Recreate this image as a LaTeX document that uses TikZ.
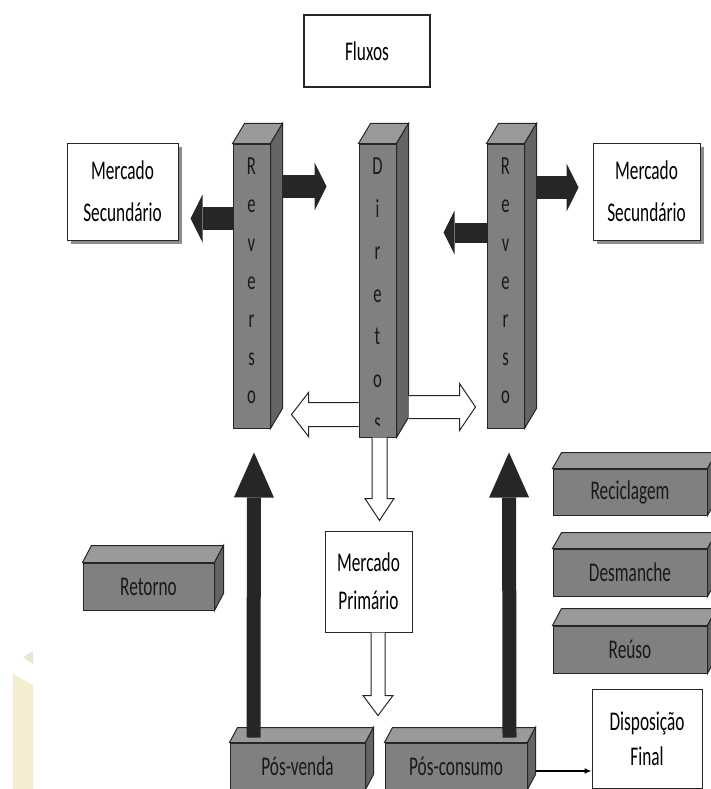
\documentclass[tikz,border=0pt]{standalone}
\usepackage{fontspec}
\setmainfont{Carlito}[FakeStretch=0.64]
\usetikzlibrary{arrows.meta,positioning,calc,shadows}

\definecolor{slabfront}{HTML}{808080}
\definecolor{slabtop}{HTML}{9A9A9A}
\definecolor{slabside}{HTML}{646464}
\definecolor{blockarrow}{HTML}{262626}
\definecolor{markpale}{HTML}{F5EDD2}
\definecolor{markgrey}{HTML}{E9E5CF}

% top and side faces behind a slab node (#2 = depth vector)
\newcommand{\slabfaces}[2]{%
  \draw[slabedge, fill=slabtop] (#1.north west) -- ++(#2) -- ($(#1.north east)+(#2)$) -- (#1.north east) -- cycle;
  \draw[slabedge, fill=slabside] (#1.north east) -- ++(#2) -- ($(#1.south east)+(#2)$) -- (#1.south east) -- cycle;
}

\begin{document}
\begin{tikzpicture}[x=1pt, y=-1pt,
    every node/.style={font=\fontsize{27}{40}\selectfont},
    % White text boxes
    wbox/.style={rectangle, draw=black!85, line width=1pt, fill=white, align=center, inner sep=0pt},
    shadowed/.style={drop shadow={shadow xshift=4pt, shadow yshift=-4pt, fill=black!45, opacity=1}},
    % Gray slabs: front face
    slab/.style={rectangle, draw=black!85, line width=1pt, fill=slabfront, text=black!90, inner sep=0pt},
    slabedge/.style={draw=black!85, line width=1pt},
    % Stacked letters on the pillars
    letters/.style={align=center, inner sep=0pt, text=black!90},
    % Arrows
    sidearr/.style={blockarrow, line width=23pt, -{Triangle[length=12pt, width=48pt, line width=0pt]}},
    uparr/.style={blockarrow, line width=14pt, -{Triangle[length=45pt, width=40pt, line width=0pt]}},
    hollow/.style={draw=black!85, fill=white, line width=1pt},
    thinarr/.style={-{Latex[length=7pt, width=6pt]}, line width=1.2pt},
]
\clip (0,0) rectangle (711,789);

% ============================================================
% Pale mark, bottom left
% ============================================================
\fill[markpale] (13,674) -- (33,685) -- (33,789) -- (13,789) -- cycle;
\fill[markgrey] (23,657) -- (33,651) -- (33,664) -- cycle;

% ============================================================
% White boxes
% ============================================================
\node[wbox, line width=1.4pt, minimum width=126, minimum height=72] (flux) at (367,51) {Fluxos};
\node[wbox, shadowed, minimum width=111, minimum height=97, font=\fontsize{27}{42}\selectfont]
    (msl) at (122.5,191.5) {Mercado\\Secundário};
\node[wbox, shadowed, minimum width=107, minimum height=97, font=\fontsize{27}{42}\selectfont]
    (msr) at (646.5,191.5) {Mercado\\Secundário};
\node[wbox, minimum width=87, minimum height=101, font=\fontsize{27}{38}\selectfont]
    (mp) at (368.5,581.5) {Mercado\\Primário};
\node[wbox, minimum width=110, minimum height=99, font=\fontsize{27}{35}\selectfont]
    (dispo) at (647,738.5) {Disposição\\Final};

% ============================================================
% Pillars
% ============================================================
\node[slab, minimum width=37, minimum height=284] (lrev) at (251.5,286) {};
\slabfaces{lrev}{12,-20}
\node[slab, minimum width=37, minimum height=293] (dir) at (377.5,290.5) {};
\slabfaces{dir}{12,-20}
\node[slab, minimum width=37, minimum height=284] (rrev) at (505.5,286) {};
\slabfaces{rrev}{12,-20}

\node[letters, font=\fontsize{26}{38.2}\selectfont] (lrevtxt) at (251.5,281) {R\\e\\v\\e\\r\\s\\o};
\node[letters, font=\fontsize{26}{38.2}\selectfont] (rrevtxt) at (505.5,281) {R\\e\\v\\e\\r\\s\\o};
\begin{scope}
  \clip (dir.north west) rectangle ([yshift=12pt]dir.south east);
  \node[letters, font=\fontsize{26}{42.6}\selectfont] (dirtxt) at (377.5,294) {D\\i\\r\\e\\t\\o\\s};
\end{scope}

% Black arrows out of the Reverso pillars
\draw[sidearr] ($(lrev.north east)+(12,43)$) -- ++(44,0);
\draw[sidearr] ($(lrev.north west)+(0,75)$) -- ++(-42,0);
\draw[sidearr, line width=20pt, -{Triangle[length=11pt, width=44pt, line width=0pt]}]
    ($(rrev.north west)+(0,89)$) -- ++(-43,0);
\draw[sidearr] ($(rrev.north east)+(12,44)$) -- ++(42,0);

% Hollow arrows out of the Diretos pillar
\draw[hollow] ($(dir.south west)+(0,-11)$) -- ++(-50,0) -- ++(0,10) -- ++(-17,-22)
    -- ++(17,-22) -- ++(0,10) -- ++(50,0);
\draw[hollow] ($(dir.south east)+(12,-19)$) -- ++(51,0) -- ++(0,12) -- ++(16,-23.5)
    -- ++(-16,-23.5) -- ++(0,12) -- ++(-51,0);
\draw[hollow] ($(dir.south)+(-5.5,0)$) -- ++(0,61) -- ++(-7,0) -- ++(14.5,22)
    -- ++(14.5,-22) -- ++(-7,0) -- ++(0,-61);
\draw[hollow] ($(mp.south)+(2.5,0)$) -- ++(0,63) -- ++(-8,0) -- ++(15,20)
    -- ++(15,-20) -- ++(-8,0) -- ++(0,-63);

% ============================================================
% Gray slabs
% ============================================================
\node[slab, minimum width=131, minimum height=47] (ret) at (148.5,586.5) {Retorno};
\slabfaces{ret}{9,-17}
\node[slab, minimum width=154, minimum height=46] (rec) at (630,492) {Reciclagem};
\slabfaces{rec}{9,-16}
\node[slab, minimum width=154, minimum height=47] (des) at (630,572.5) {Desmanche};
\slabfaces{des}{9,-16}
\node[slab, minimum width=154, minimum height=47] (reu) at (630,649.5) {Reúso};
\slabfaces{reu}{9,-17}
\node[slab, minimum width=135, minimum height=46] (pv) at (297.5,766) {Pós-venda};
\slabfaces{pv}{8,-15}
\node[slab, minimum width=142, minimum height=46] (pc) at (456,766) {Pós-consumo};
\slabfaces{pc}{8,-15}

% Up arrows into the Reverso pillars
\draw[uparr] ($(pv.north west)+(24,-5)$) -- ($(lrev.south)+(2.5,24)$);
\draw[uparr] ($(pc.north east)+(-18,-5)$) -- ($(rrev.south)+(3.5,24)$);

% Pós-consumo to final disposal
\draw[thinarr] ([xshift=8pt, yshift=-5pt]pc.east) coordinate (pcout) -- (pcout -| dispo.west);

\end{tikzpicture}
\end{document}
